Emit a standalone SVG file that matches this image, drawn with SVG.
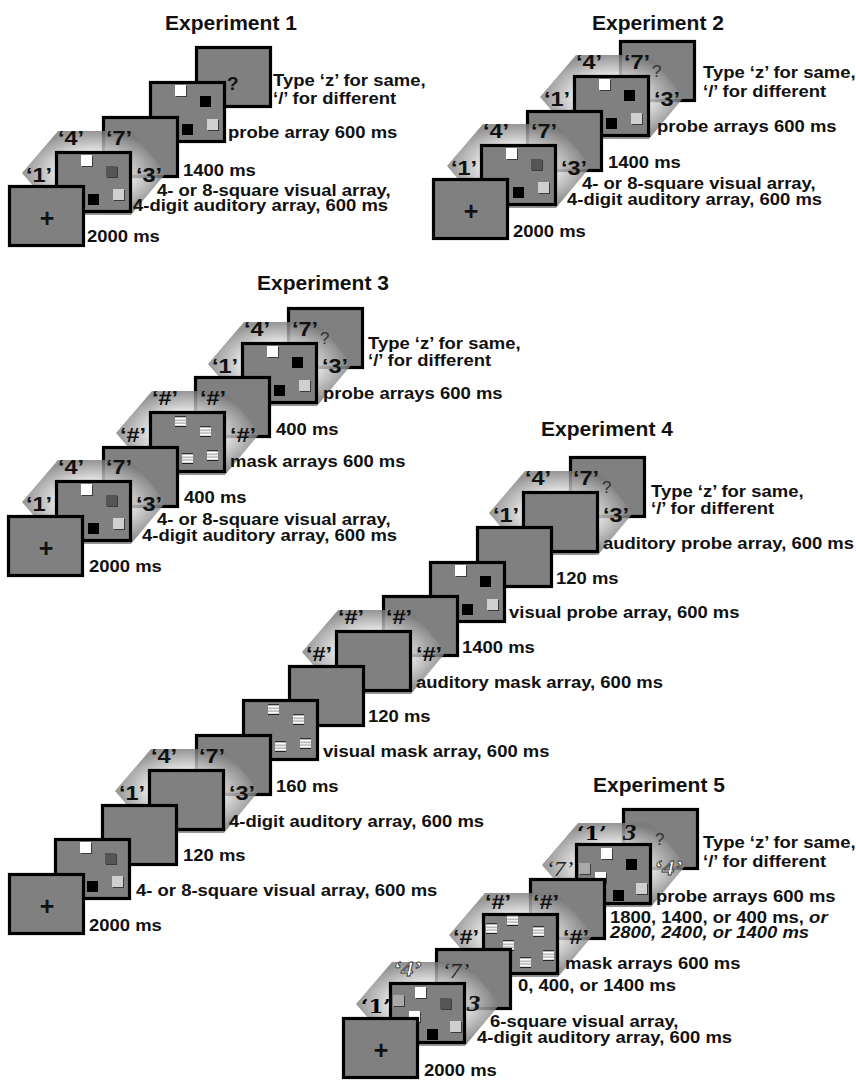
<svg xmlns="http://www.w3.org/2000/svg" xmlns:xlink="http://www.w3.org/1999/xlink" width="856" height="1080" viewBox="0 0 856 1080">
<defs>
<style>
.fr{fill:#808080;stroke:#000;stroke-width:3.2}
.hx{fill:url(#hg);opacity:.8}
.t{font-family:"Liberation Sans",Arial,sans-serif;font-weight:bold;font-size:16.5px;fill:#111}
.ti{font-style:italic}
.h{font-family:"Liberation Sans",Arial,sans-serif;font-weight:bold;font-size:21px;fill:#111}
.d{font-family:"Liberation Sans",Arial,sans-serif;font-weight:bold;font-size:21px;fill:#111}
.p{font-family:"Liberation Sans",Arial,sans-serif;font-weight:bold;font-size:25px;fill:#111;text-anchor:middle}
.q{font-family:"Liberation Sans",Arial,sans-serif;font-size:17px;fill:#333}
.qb{font-family:"Liberation Sans",Arial,sans-serif;font-weight:bold;font-size:19px;fill:#111}
.a{font-family:"DejaVu Serif",serif;font-weight:bold;font-size:19px;fill:#000}
.b{font-family:"Liberation Serif",serif;font-style:italic;font-weight:bold;font-size:22px;fill:#fff;stroke:#333;stroke-width:.8}
.c{font-family:"Liberation Serif",serif;font-style:italic;font-size:21px;fill:#222}
.e{font-family:"Liberation Serif",serif;font-style:italic;font-weight:bold;font-size:24px;fill:#111}
</style>
<radialGradient id="hg" cx=".5" cy=".5" r=".5">
<stop offset="0" stop-color="#fff"/><stop offset=".42" stop-color="#f4f4f4"/><stop offset=".72" stop-color="#b4b4b4"/><stop offset="1" stop-color="#7a7a7a"/>
</radialGradient>
<rect id="fr" class="fr" x="1.5" y="1.5" width="74" height="59"/>
<polygon id="hx" class="hx" points="-33,22 3,-20 76,-20 111,22 76,64 3,64"/>
<g id="sW"><rect x="1" y="1" width="11" height="11" fill="#3c3c3c"/><rect width="11" height="11" fill="#fff"/></g>
<g id="sK"><rect width="11" height="11" fill="#000"/></g>
<g id="sD"><rect x="1" y="1" width="11" height="11" fill="#3c3c3c"/><rect width="11" height="11" fill="#555"/></g>
<g id="sL"><rect x="1" y="1" width="11" height="11" fill="#3c3c3c"/><rect width="11" height="11" fill="#cfcfcf"/></g>
<g id="sG"><rect x="1" y="1" width="11" height="11" fill="#3c3c3c"/><rect width="11" height="11" fill="#a9a9a9"/></g>
<g id="sM"><rect width="11" height="11" fill="#9a9a9a"/><rect width="11" height="1.2" fill="#333"/><rect y="1.6" width="11" height="2" fill="#fff"/><rect y="4.6" width="11" height="2" fill="#eee"/><rect y="7.6" width="11" height="2" fill="#fff"/><rect y="10" width="11" height="1" fill="#222"/></g>
</defs>
<rect width="856" height="1080" fill="#fff"/>

<!-- Experiment 1 -->
<g id="exp1">
<g id="e1-f4" transform="translate(195,46)"><use href="#fr"/><text class="qb" x="32" y="44">?</text></g>
<g id="e1-f3" transform="translate(149,81)"><use href="#fr"/><use href="#sW" x="26" y="4"/><use href="#sK" x="51" y="15"/><use href="#sK" x="33" y="43"/><use href="#sL" x="58" y="38"/></g>
<g id="e1-f2" transform="translate(102,116)"><use href="#fr"/></g>
<g id="e1-aud" transform="translate(55,151)"><use href="#hx"/><text class="d" transform="matrix(1.12 0 0 1 -29 31)">‘1’</text><text class="d" transform="matrix(1.12 0 0 1 3 -6)">‘4’</text><text class="d" transform="matrix(1.12 0 0 1 51 -6)">‘7’</text><text class="d" transform="matrix(1.12 0 0 1 81 31)">‘3’</text></g>
<g id="e1-f1" transform="translate(55,151)"><use href="#fr"/><use href="#sW" x="26" y="4"/><use href="#sD" x="51" y="15"/><use href="#sK" x="33" y="43"/><use href="#sL" x="58" y="38"/></g>
<g id="e1-f0" transform="translate(8,185)"><use href="#fr"/><text class="p" x="39" y="42">+</text></g>
</g>

<!-- Experiment 2 -->
<g id="exp2">
<g id="e2-f4" transform="translate(619,40)"><use href="#fr"/></g>
<g id="e2-aud2" transform="translate(573,75)"><use href="#hx"/><text class="d" transform="matrix(1.12 0 0 1 -29 31)">‘1’</text><text class="d" transform="matrix(1.12 0 0 1 3 -6)">‘4’</text><text class="d" transform="matrix(1.12 0 0 1 51 -6)">‘7’</text><text class="d" transform="matrix(1.12 0 0 1 81 31)">‘3’</text></g>
<g id="e2-q"><text class="q" x="652" y="77">?</text></g>
<g id="e2-f3" transform="translate(573,75)"><use href="#fr"/><use href="#sW" x="26" y="4"/><use href="#sK" x="51" y="15"/><use href="#sK" x="33" y="43"/><use href="#sL" x="58" y="38"/></g>
<g id="e2-f2" transform="translate(526,110)"><use href="#fr"/></g>
<g id="e2-aud1" transform="translate(480,144)"><use href="#hx"/><text class="d" transform="matrix(1.12 0 0 1 -29 31)">‘1’</text><text class="d" transform="matrix(1.12 0 0 1 3 -6)">‘4’</text><text class="d" transform="matrix(1.12 0 0 1 51 -6)">‘7’</text><text class="d" transform="matrix(1.12 0 0 1 81 31)">‘3’</text></g>
<g id="e2-f1" transform="translate(480,144)"><use href="#fr"/><use href="#sW" x="26" y="4"/><use href="#sD" x="51" y="15"/><use href="#sK" x="33" y="43"/><use href="#sL" x="58" y="38"/></g>
<g id="e2-f0" transform="translate(432,178)"><use href="#fr"/><text class="p" x="39" y="42">+</text></g>
</g>

<!-- Experiment 3 -->
<g id="exp3">
<g id="e3-f6" transform="translate(287,307)"><use href="#fr"/></g>
<g id="e3-aud2" transform="translate(241,342)"><use href="#hx"/><text class="d" transform="matrix(1.12 0 0 1 -29 31)">‘1’</text><text class="d" transform="matrix(1.12 0 0 1 3 -6)">‘4’</text><text class="d" transform="matrix(1.12 0 0 1 51 -6)">‘7’</text><text class="d" transform="matrix(1.12 0 0 1 81 31)">‘3’</text></g>
<g id="e3-q"><text class="q" x="320" y="344">?</text></g>
<g id="e3-f5" transform="translate(241,342)"><use href="#fr"/><use href="#sW" x="26" y="4"/><use href="#sK" x="51" y="15"/><use href="#sK" x="33" y="43"/><use href="#sL" x="58" y="38"/></g>
<g id="e3-f4" transform="translate(194,376)"><use href="#fr"/></g>
<g id="e3-audmask" transform="translate(149,411)"><use href="#hx"/><text class="d" transform="matrix(1.12 0 0 1 -29 31)">‘#’</text><text class="d" transform="matrix(1.12 0 0 1 3 -6)">‘#’</text><text class="d" transform="matrix(1.12 0 0 1 51 -6)">‘#’</text><text class="d" transform="matrix(1.12 0 0 1 81 31)">‘#’</text></g>
<g id="e3-f3" transform="translate(149,411)"><use href="#fr"/><use href="#sM" x="26" y="5"/><use href="#sM" x="51" y="15"/><use href="#sM" x="33" y="42"/><use href="#sM" x="58" y="39"/></g>
<g id="e3-f2" transform="translate(102,446)"><use href="#fr"/></g>
<g id="e3-aud1" transform="translate(55,480)"><use href="#hx"/><text class="d" transform="matrix(1.12 0 0 1 -29 31)">‘1’</text><text class="d" transform="matrix(1.12 0 0 1 3 -6)">‘4’</text><text class="d" transform="matrix(1.12 0 0 1 51 -6)">‘7’</text><text class="d" transform="matrix(1.12 0 0 1 81 31)">‘3’</text></g>
<g id="e3-f1" transform="translate(55,480)"><use href="#fr"/><use href="#sW" x="26" y="4"/><use href="#sD" x="51" y="15"/><use href="#sK" x="33" y="43"/><use href="#sL" x="58" y="38"/></g>
<g id="e3-f0" transform="translate(7,515)"><use href="#fr"/><text class="p" x="39" y="42">+</text></g>
</g>

<!-- Experiment 4 -->
<g id="exp4">
<g id="e4-f12" transform="translate(569,456)"><use href="#fr"/></g>
<g id="e4-audprobe" transform="translate(522,491)"><use href="#hx"/><text class="d" transform="matrix(1.12 0 0 1 -29 31)">‘1’</text><text class="d" transform="matrix(1.12 0 0 1 3 -6)">‘4’</text><text class="d" transform="matrix(1.12 0 0 1 51 -6)">‘7’</text><text class="d" transform="matrix(1.12 0 0 1 81 31)">‘3’</text></g>
<g id="e4-q"><text class="q" x="602" y="493">?</text></g>
<g id="e4-f11" transform="translate(522,491)"><use href="#fr"/></g>
<g id="e4-f10" transform="translate(476,526)"><use href="#fr"/></g>
<g id="e4-f9" transform="translate(429,561)"><use href="#fr"/><use href="#sW" x="26" y="4"/><use href="#sK" x="51" y="15"/><use href="#sK" x="33" y="43"/><use href="#sL" x="58" y="38"/></g>
<g id="e4-f8" transform="translate(382,595)"><use href="#fr"/></g>
<g id="e4-audmask" transform="translate(335,630)"><use href="#hx"/><text class="d" transform="matrix(1.12 0 0 1 -29 31)">‘#’</text><text class="d" transform="matrix(1.12 0 0 1 3 -6)">‘#’</text><text class="d" transform="matrix(1.12 0 0 1 51 -6)">‘#’</text><text class="d" transform="matrix(1.12 0 0 1 81 31)">‘#’</text></g>
<g id="e4-f7" transform="translate(335,630)"><use href="#fr"/></g>
<g id="e4-f6" transform="translate(288,665)"><use href="#fr"/></g>
<g id="e4-f5" transform="translate(242,699)"><use href="#fr"/><use href="#sM" x="26" y="5"/><use href="#sM" x="51" y="15"/><use href="#sM" x="33" y="42"/><use href="#sM" x="58" y="39"/></g>
<g id="e4-f4" transform="translate(195,734)"><use href="#fr"/></g>
<g id="e4-aud" transform="translate(148,769)"><use href="#hx"/><text class="d" transform="matrix(1.12 0 0 1 -29 31)">‘1’</text><text class="d" transform="matrix(1.12 0 0 1 3 -6)">‘4’</text><text class="d" transform="matrix(1.12 0 0 1 51 -6)">‘7’</text><text class="d" transform="matrix(1.12 0 0 1 81 31)">‘3’</text></g>
<g id="e4-f3" transform="translate(148,769)"><use href="#fr"/></g>
<g id="e4-f2" transform="translate(101,804)"><use href="#fr"/></g>
<g id="e4-f1" transform="translate(54,838)"><use href="#fr"/><use href="#sW" x="26" y="4"/><use href="#sD" x="51" y="15"/><use href="#sK" x="33" y="43"/><use href="#sL" x="58" y="38"/></g>
<g id="e4-f0" transform="translate(8,873)"><use href="#fr"/><text class="p" x="39" y="42">+</text></g>
</g>

<!-- Experiment 5 -->
<g id="exp5">
<g id="e5-f6" transform="translate(622,808)"><use href="#fr"/></g>
<g id="e5-aud2" transform="translate(575,843)"><use href="#hx"/><text class="a" transform="matrix(1.12 0 0 1 2 -3)">‘1’</text><text class="e" transform="matrix(1.12 0 0 1 48 -3)">3</text><text class="c" transform="matrix(1.12 0 0 1 -29 33)">‘7’</text><text class="b" transform="matrix(1.12 0 0 1 79 32)">‘4’</text></g>
<g id="e5-q"><text class="q" x="655" y="845">?</text></g>
<g id="e5-f5" transform="translate(575,843)"><use href="#fr"/><use href="#sG" x="4" y="20"/><use href="#sW" x="26" y="5"/><use href="#sK" x="51" y="16"/><use href="#sW" x="20" y="29"/><use href="#sK" x="38" y="47"/><use href="#sL" x="61" y="40"/></g>
<g id="e5-f4" transform="translate(529,878)"><use href="#fr"/></g>
<g id="e5-audmask" transform="translate(482,913)"><use href="#hx"/><text class="d" transform="matrix(1.12 0 0 1 -29 31)">‘#’</text><text class="d" transform="matrix(1.12 0 0 1 3 -4)">‘#’</text><text class="d" transform="matrix(1.12 0 0 1 51 -4)">‘#’</text><text class="d" transform="matrix(1.12 0 0 1 81 31)">‘#’</text></g>
<g id="e5-f3" transform="translate(482,913)"><use href="#fr"/><use href="#sM" x="4" y="10"/><use href="#sM" x="25" y="2"/><use href="#sM" x="51" y="13"/><use href="#sM" x="21" y="27"/><use href="#sM" x="38" y="44"/><use href="#sM" x="61" y="37"/></g>
<g id="e5-f2" transform="translate(435,948)"><use href="#fr"/></g>
<g id="e5-aud1" transform="translate(389,982)"><use href="#hx"/><text class="a" transform="matrix(1.12 0 0 1 -28 31)">‘1’</text><text class="b" transform="matrix(1.12 0 0 1 4 -6)">‘4’</text><text class="c" transform="matrix(1.12 0 0 1 53 -4)">‘7’</text><text class="e" transform="matrix(1.12 0 0 1 78 29)">3</text></g>
<g id="e5-f1" transform="translate(389,982)"><use href="#fr"/><use href="#sG" x="4" y="13"/><use href="#sW" x="26" y="5"/><use href="#sD" x="51" y="16"/><use href="#sW" x="20" y="29"/><use href="#sK" x="38" y="47"/><use href="#sL" x="61" y="39"/></g>
<g id="e5-f0" transform="translate(342,1017)"><use href="#fr"/><text class="p" x="39" y="42">+</text></g>
</g>

<!-- Labels -->
<g id="titles">
<text class="h" x="165" y="30">Experiment 1</text>
<text class="h" x="592" y="30">Experiment 2</text>
<text class="h" x="257" y="290">Experiment 3</text>
<text class="h" x="541" y="436">Experiment 4</text>
<text class="h" x="593" y="792">Experiment 5</text>
</g>
<g id="e1-labels">
<text class="t" transform="matrix(1.12 0 0 1 273 86)">Type ‘z’ for same,</text>
<text class="t" transform="matrix(1.12 0 0 1 273 104)">‘/’ for different</text>
<text class="t" transform="matrix(1.12 0 0 1 228 138)">probe array 600 ms</text>
<text class="t" transform="matrix(1.12 0 0 1 183 176)">1400 ms</text>
<text class="t" transform="matrix(1.12 0 0 1 157 196)">4- or 8-square visual array,</text>
<text class="t" transform="matrix(1.12 0 0 1 133 211)">4-digit auditory array, 600 ms</text>
<text class="t" transform="matrix(1.12 0 0 1 87 242)">2000 ms</text>
</g>
<g id="e2-labels">
<text class="t" transform="matrix(1.12 0 0 1 703 78)">Type ‘z’ for same,</text>
<text class="t" transform="matrix(1.12 0 0 1 703 97)">‘/’ for different</text>
<text class="t" transform="matrix(1.12 0 0 1 657 132)">probe arrays 600 ms</text>
<text class="t" transform="matrix(1.12 0 0 1 608 168)">1400 ms</text>
<text class="t" transform="matrix(1.12 0 0 1 582 189)">4- or 8-square visual array,</text>
<text class="t" transform="matrix(1.12 0 0 1 567 205)">4-digit auditory array, 600 ms</text>
<text class="t" transform="matrix(1.12 0 0 1 513 237)">2000 ms</text>
</g>
<g id="e3-labels">
<text class="t" transform="matrix(1.12 0 0 1 368 349)">Type ‘z’ for same,</text>
<text class="t" transform="matrix(1.12 0 0 1 368 366)">‘/’ for different</text>
<text class="t" transform="matrix(1.12 0 0 1 323 399)">probe arrays 600 ms</text>
<text class="t" transform="matrix(1.12 0 0 1 276 435)">400 ms</text>
<text class="t" transform="matrix(1.12 0 0 1 230 467)">mask arrays 600 ms</text>
<text class="t" transform="matrix(1.12 0 0 1 184 503)">400 ms</text>
<text class="t" transform="matrix(1.12 0 0 1 157 525)">4- or 8-square visual array,</text>
<text class="t" transform="matrix(1.12 0 0 1 142 541)">4-digit auditory array, 600 ms</text>
<text class="t" transform="matrix(1.12 0 0 1 89 572)">2000 ms</text>
</g>
<g id="e4-labels">
<text class="t" transform="matrix(1.12 0 0 1 651 497)">Type ‘z’ for same,</text>
<text class="t" transform="matrix(1.12 0 0 1 651 514)">‘/’ for different</text>
<text class="t" transform="matrix(1.12 0 0 1 603 549)">auditory probe array, 600 ms</text>
<text class="t" transform="matrix(1.12 0 0 1 556 584)">120 ms</text>
<text class="t" transform="matrix(1.12 0 0 1 509 618)">visual probe array, 600 ms</text>
<text class="t" transform="matrix(1.12 0 0 1 462 653)">1400 ms</text>
<text class="t" transform="matrix(1.12 0 0 1 416 688)">auditory mask array, 600 ms</text>
<text class="t" transform="matrix(1.12 0 0 1 368 722)">120 ms</text>
<text class="t" transform="matrix(1.12 0 0 1 323 757)">visual mask array, 600 ms</text>
<text class="t" transform="matrix(1.12 0 0 1 276 792)">160 ms</text>
<text class="t" transform="matrix(1.12 0 0 1 229 827)">4-digit auditory array, 600 ms</text>
<text class="t" transform="matrix(1.12 0 0 1 183 861)">120 ms</text>
<text class="t" transform="matrix(1.12 0 0 1 136 896)">4- or 8-square visual array, 600 ms</text>
<text class="t" transform="matrix(1.12 0 0 1 89 931)">2000 ms</text>
</g>
<g id="e5-labels">
<text class="t" transform="matrix(1.12 0 0 1 703 848)">Type ‘z’ for same,</text>
<text class="t" transform="matrix(1.12 0 0 1 703 867)">‘/’ for different</text>
<text class="t" transform="matrix(1.12 0 0 1 656 902)">probe arrays 600 ms</text>
<text class="t" transform="matrix(1.12 0 0 1 610 923)">1800, 1400, or 400 ms, <tspan class="ti">or</tspan></text>
<text class="t ti" transform="matrix(1.12 0 0 1 610 938)">2800, 2400, or 1400 ms</text>
<text class="t" transform="matrix(1.12 0 0 1 565 969)">mask arrays 600 ms</text>
<text class="t" transform="matrix(1.12 0 0 1 518 991)">0, 400, or 1400 ms</text>
<text class="t" transform="matrix(1.12 0 0 1 490 1027)">6-square visual array,</text>
<text class="t" transform="matrix(1.12 0 0 1 477 1043)">4-digit auditory array, 600 ms</text>
<text class="t" transform="matrix(1.12 0 0 1 424 1076)">2000 ms</text>
</g>
</svg>
